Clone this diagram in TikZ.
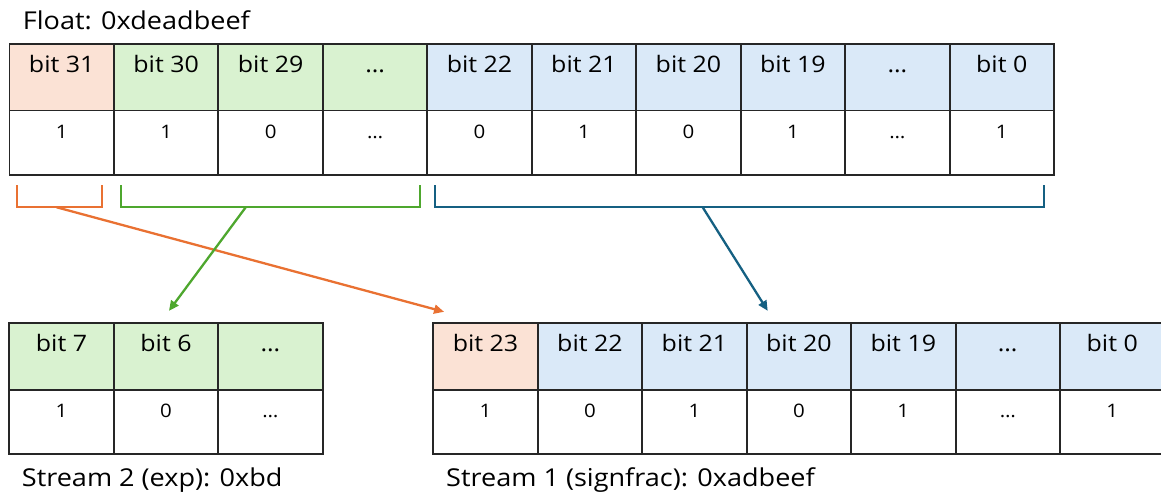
\documentclass[tikz,border=0pt]{standalone}
\usepackage{fontspec}
\setmainfont{Open Sans}[FakeStretch=1.1]
\usetikzlibrary{arrows.meta,calc}
\definecolor{signfill}{HTML}{FBE2D5}
\definecolor{expfill}{HTML}{D9F2D0}
\definecolor{fracfill}{HTML}{DAE9F8}
\definecolor{signline}{HTML}{E97132}
\definecolor{expline}{HTML}{4EA72E}
\definecolor{fracline}{HTML}{156082}
\definecolor{gridline}{HTML}{262626}
\begin{document}
\begin{tikzpicture}[x=1pt,y=-1pt,
  cell/.style={draw=gridline, line width=1.9pt, minimum width=104.45pt,
    inner xsep=0pt, inner ysep=0pt},
  headcell/.style={cell, minimum height=66.5pt, text height=28.7pt, text depth=37.8pt,
    font=\fontsize{22.7}{26}\selectfont},
  valcell/.style={cell, minimum height=64.5pt, text height=27.8pt, text depth=36.7pt,
    font=\fontsize{18.6}{22}\selectfont},
  caption/.style={anchor=base west, inner sep=0pt, font=\fontsize{24.6}{30}\selectfont},
  bracket/.style={line width=2pt},
  link/.style={line width=2.3pt, -{Triangle[length=10pt,width=9pt]}}
]
\clip (0,0) rectangle (1161,495);

% 32-bit float
\node[caption] (title) at (22.7,29.3) {Float: 0xdeadbeef};
\foreach \t/\f [count=\i] in {bit 31/signfill, bit 30/expfill, bit 29/expfill, …/expfill,
    bit 22/fracfill, bit 21/fracfill, bit 20/fracfill, bit 19/fracfill, …/fracfill, bit 0/fracfill}
  \node[headcell, fill=\f] (th\i) at ({9.5+104.45*(\i-0.5)},77.25) {\t};
\foreach \v [count=\i] in {1,1,0,…,0,1,0,1,…,1}
  \node[valcell] (tv\i) at ({9.5+104.45*(\i-0.5)},142.75) {\v};

% field brackets
\draw[bracket, signline] (17.3,185) -- (17.3,207.3) -- (102.3,207.3) -- (102.3,185);
\draw[bracket, expline] (120.7,185) -- (120.7,207.3) -- (420,207.3) -- (420,185);
\draw[bracket, fracline] (435,185) -- (435,207.3) -- (1044.3,207.3) -- (1044.3,185);
\coordinate (sgnsrc) at (56.7,207.3);
\coordinate (expsrc) at (245.7,207.3);
\coordinate (fracsrc) at (702.7,207.3);

% stream 2: exponent
\foreach \t [count=\i] in {bit 7, bit 6, …}
  \node[headcell, fill=expfill] (bh\i) at ({9.3+104.45*(\i-0.5)},356.5) {\t};
\foreach \v [count=\i] in {1,0,…}
  \node[valcell] (bv\i) at ({9.3+104.45*(\i-0.5)},422) {\v};
\node[caption] (exp) at (21.7,486) {Stream 2 (exp): 0xbd};

% stream 1: sign and fraction
\foreach \t/\f [count=\i] in {bit 23/signfill, bit 22/fracfill, bit 21/fracfill, bit 20/fracfill,
    bit 19/fracfill, …/fracfill, bit 0/fracfill}
  \node[headcell, fill=\f] (rh\i) at ({433.3+104.45*(\i-0.5)},356.5) {\t};
\foreach \v [count=\i] in {1,0,1,0,1,…,1}
  \node[valcell] (rv\i) at ({433.3+104.45*(\i-0.5)},422) {\v};
\node[caption] (sf) at (446,486) {Stream 1 (signfrac): 0xadbeef};

% arrow targets above the streams
\coordinate (sgndst) at ($(rh1.north west)+(11.7,-10.5)$);
\coordinate (expdst) at ($(bh2.north)+(3,-11.5)$);
\coordinate (fracdst) at ($(rh4.north west)+(22,-11.5)$);

\draw[link, signline] (sgnsrc) -- (sgndst);
\draw[link, expline] (expsrc) -- (expdst);
\draw[link, fracline] (fracsrc) -- (fracdst);
\end{tikzpicture}
\end{document}
